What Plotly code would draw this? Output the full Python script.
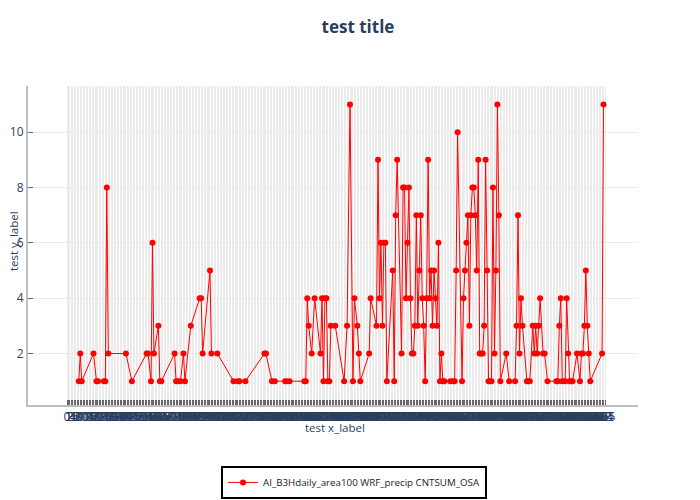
import plotly.graph_objects as go

# day index (x) and daily count (y)
day = [8, 9, 10, 18, 20, 21, 25, 26, 27, 28, 40, 44, 54, 55, 57, 58, 59, 62, 63, 64,
       73, 74, 75, 77, 79, 80, 84, 90, 91, 92, 97, 98, 102, 113, 116, 117, 121, 134, 135, 139,
       141, 148, 149, 151, 161, 162, 163, 164, 166, 168, 172, 173, 174, 175, 176, 177, 178, 179, 182, 188,
       190, 192, 194, 195, 197, 198, 199, 205, 206, 210, 211, 212, 213, 214, 215, 216, 217, 221, 222, 223,
       224, 227, 228, 229, 230, 231, 232, 233, 234, 235, 236, 237, 238, 239, 240, 241, 242, 243, 244, 245,
       246, 247, 248, 249, 250, 251, 252, 253, 254, 255, 256, 260, 262, 263, 264, 265, 268, 269, 270, 271,
       272, 273, 274, 275, 276, 277, 278, 279, 280, 281, 282, 283, 284, 285, 286, 287, 288, 289, 290, 291,
       292, 293, 294, 298, 300, 304, 305, 306, 307, 308, 309, 312, 313, 314, 316, 317, 318, 319, 320, 321,
       323, 324, 326, 332, 333, 334, 335, 336, 338, 339, 340, 341, 342, 343, 346, 348, 349, 350, 351, 352,
       353, 354, 355, 363, 364]
count = [1, 2, 1, 2, 1, 1, 1, 1, 8, 2, 2, 1, 2, 2, 1, 6, 2, 3, 1, 1,
         2, 1, 1, 1, 2, 1, 3, 4, 4, 2, 5, 2, 2, 1, 1, 1, 1, 2, 2, 1,
         1, 1, 1, 1, 1, 1, 4, 3, 2, 4, 2, 4, 1, 4, 4, 1, 1, 3, 3, 1,
         3, 11, 1, 4, 3, 2, 1, 2, 4, 3, 9, 4, 6, 3, 6, 6, 1, 5, 1, 7,
         9, 2, 8, 8, 4, 6, 8, 4, 2, 2, 3, 7, 3, 5, 7, 4, 3, 1, 4, 9,
         4, 5, 3, 5, 4, 3, 6, 1, 2, 1, 1, 1, 1, 1, 5, 10, 1, 4, 5, 6,
         7, 3, 7, 8, 8, 7, 5, 9, 2, 2, 2, 3, 9, 5, 1, 1, 1, 8, 2, 5,
         11, 7, 1, 2, 1, 1, 3, 7, 2, 4, 3, 1, 1, 1, 3, 2, 3, 2, 3, 4,
         2, 2, 1, 1, 1, 3, 4, 1, 1, 4, 2, 1, 1, 1, 2, 1, 2, 2, 3, 5,
         3, 2, 1, 2, 11]
tick_days = list(range(0, 366))

series_name = "AI_B3Hdaily_area100 WRF_precip CNTSUM_OSA"
x_title = "test x_label"
y_title = "test y_label"

fig = go.Figure(
    go.Scatter(
        x=day, y=count, mode="lines+markers", name=series_name,
        line=dict(color="red", width=1),
        marker=dict(color="red", size=6),
    )
)

axis_common = dict(
    showgrid=True, gridcolor="#ebebeb", gridwidth=1,
    ticks="inside", ticklen=5, tickcolor="#666",
    showline=True, linewidth=2, linecolor="#bebebe",
    zeroline=False, automargin=False,
    tickfont=dict(color="#2a3f5f", size=12),
)

fig.update_layout(
    width=700, height=500,
    margin=dict(l=20, r=70, t=78, b=103, autoexpand=False),
    plot_bgcolor="white", paper_bgcolor="white",
    font=dict(family="Open Sans, verdana, arial, sans-serif", color="#2a3f5f", size=12),
    title=dict(text="<b>test title</b>", x=0.5, xanchor="center", y=0.962, yanchor="middle",
               automargin=False, font=dict(size=17, color="#2a3f5f")),
    showlegend=True,
    legend=dict(x=0.3164, xanchor="left", y=-0.191, yanchor="top",
                bordercolor="black", borderwidth=2, bgcolor="white",
                font=dict(size=9.75, color="#222")),
    xaxis=dict(axis_common, range=[-26.46, 387.39], tickmode="array", tickvals=tick_days,
               tickangle=0),
    yaxis=dict(axis_common, range=[0.14, 11.67], dtick=2, tick0=0),
    annotations=[
        dict(text=x_title, xref="paper", yref="paper", x=0.504, y=-0.0721,
             xanchor="center", yanchor="middle", showarrow=False,
             font=dict(size=11.5, color="#2a3f5f")),
        dict(text=y_title, xref="paper", yref="paper", x=-0.0246, y=0.514,
             xanchor="center", yanchor="middle", showarrow=False, textangle=-90,
             font=dict(size=11.5, color="#2a3f5f")),
    ],
)

fig.write_html("out.html")
